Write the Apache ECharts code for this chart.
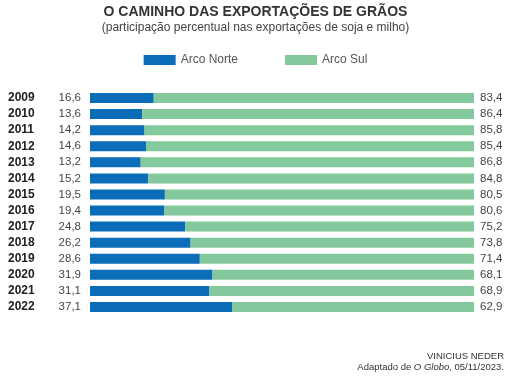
<!DOCTYPE html>
<html><head><meta charset="utf-8">
<script src="https://cdn.jsdelivr.net/npm/echarts@6/dist/echarts.min.js"></script>
<style>html,body{margin:0;padding:0;background:#fff}#c{width:511px;height:378px}</style>
</head><body><div id="c"></div>
<script>
var years = ['2009','2010','2011','2012','2013','2014','2015','2016','2017','2018','2019','2020','2021','2022'];
var arcoNorte = [16.6,13.6,14.2,14.6,13.2,15.2,19.5,19.4,24.8,26.2,28.6,31.9,31.1,37.1];
var arcoSul = [83.4,86.4,85.8,85.4,86.8,84.8,80.5,80.6,75.2,73.8,71.4,68.1,68.9,62.9];
var seriesNames = ['Arco Norte','Arco Sul'];
function fmt(v){ return v.toFixed(1).replace('.', ','); }
var FONT = '"Liberation Sans", Arial, sans-serif';
var chart = echarts.init(document.getElementById('c'));
chart.setOption({
  animation:false,
  textStyle:{fontFamily:FONT},
  title:[
    {text:'O CAMINHO DAS EXPORTAÇÕES DE GRÃOS', left:'center', top:5, padding:0,
     textStyle:{fontSize:14, fontWeight:'bold', color:'#333', fontFamily:FONT},
     subtext:'(participação percentual nas exportações de soja e milho)',
     subtextStyle:{fontSize:12, color:'#444', fontFamily:FONT}, itemGap:3},
    {text:'VINICIUS NEDER', right:7, top:351, padding:0,
     textStyle:{fontSize:9.5, fontWeight:'normal', color:'#333', fontFamily:FONT}},
    {text:'Adaptado de {i|O Globo}, 05/11/2023.', right:7, top:362, padding:0,
     textStyle:{fontSize:9.5, fontWeight:'normal', color:'#333', fontFamily:FONT,
       rich:{i:{fontStyle:'italic', fontSize:9.5, color:'#333', fontFamily:FONT}}}}
  ],
  legend:{top:54, left:'center', itemWidth:32, itemHeight:10, itemGap:47, padding:0,
    icon:'rect', textStyle:{fontSize:12, color:'#555', fontFamily:FONT},
    data:seriesNames},
  grid:{left:90, right:37, top:90, bottom:63},
  xAxis:{type:'value', min:0, max:100, show:false},
  yAxis:{type:'category', data:years, inverse:true,
    axisLine:{show:false}, axisTick:{show:false},
    axisLabel:{align:'left', margin:82, fontWeight:'bold', fontSize:12, color:'#222', fontFamily:FONT}},
  series:[
    {name:seriesNames[0], type:'bar', stack:'t', data:arcoNorte, barWidth:10,
     itemStyle:{color:'#0b6db7'},
     label:{show:true, position:[-9,'50%'], align:'right', verticalAlign:'middle',
       formatter:function(p){return fmt(p.value);}, fontSize:11.5, color:'#444', fontFamily:FONT}},
    {name:seriesNames[1], type:'bar', stack:'t', data:arcoSul, barWidth:10,
     itemStyle:{color:'#84c89d'},
     label:{show:true, position:'right', distance:6,
       formatter:function(p){return fmt(p.value);}, fontSize:11.5, color:'#444', fontFamily:FONT}}
  ]
});
</script></body></html>
